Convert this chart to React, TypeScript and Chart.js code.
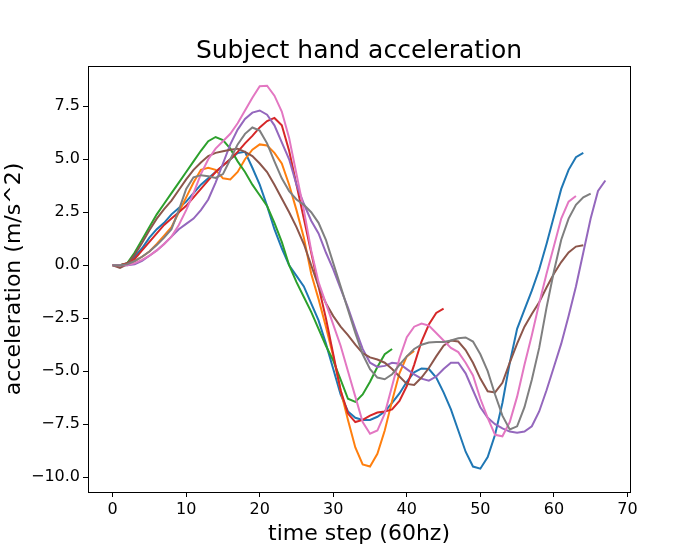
import { useEffect, useRef } from "react";
import { Chart, registerables } from "chart.js";

Chart.register(...registerables);

const blue = [
  0, 0, 0.1, 0.4, 0.8, 1.3, 1.7, 2.0, 2.4, 2.7, 3.0, 3.4, 3.8, 4.1, 4.4, 4.7, 5.0, 5.3, 5.35, 4.6,
  3.8, 2.8, 1.7, 0.8, 0.0, -0.5, -1.0, -1.8, -2.6, -3.7, -4.9, -6.1, -6.9, -7.2, -7.3, -7.3, -7.15, -6.9, -6.5, -6.05,
  -5.5, -5.05, -4.87, -4.9, -5.3, -6.0, -6.8, -7.8, -8.8, -9.5, -9.6, -9.05, -8.0, -6.5, -4.6, -3.0, -2.1, -1.2, -0.2, 1.0,
  2.3, 3.6, 4.5, 5.1, 5.3,
];
const orange = [
  0, 0, 0.05, 0.2, 0.4, 0.65, 1.0, 1.4, 1.8, 2.5, 3.2, 3.9, 4.5, 4.6, 4.5, 4.1, 4.05, 4.4, 5.0, 5.45,
  5.7, 5.65, 5.3, 4.8, 3.8, 2.6, 1.3, -0.4, -1.6, -2.9, -4.3, -5.9, -7.3, -8.6, -9.4, -9.5, -8.9, -7.8, -6.4, -5.1,
  -4.3, -4.05,
];
const green = [
  0, 0, 0.1, 0.6, 1.2, 1.8, 2.4, 2.9, 3.4, 3.9, 4.4, 4.9, 5.4, 5.85, 6.05, 5.9, 5.5, 4.9, 4.4, 3.8,
  3.3, 2.8, 2.0, 1.1, 0.0, -0.8, -1.5, -2.2, -3.0, -3.8, -4.5, -5.4, -6.3, -6.45, -6.1, -5.5, -4.8, -4.2, -3.95,
];
const red = [
  0, 0, 0.1, 0.3, 0.7, 1.1, 1.5, 1.9, 2.2, 2.5, 2.8, 3.2, 3.6, 4.0, 4.4, 4.7, 5.0, 5.35, 5.75, 6.1,
  6.5, 6.8, 6.95, 6.6, 5.4, 3.8, 2.2, 0.6, -1.0, -2.5, -4.2, -5.9, -7.0, -7.4, -7.3, -7.1, -6.95, -6.9, -6.8, -6.4,
  -5.7, -4.7, -3.6, -2.8, -2.25, -2.05,
];
const purple = [
  0, 0, 0, 0.05, 0.2, 0.45, 0.7, 1.0, 1.35, 1.7, 1.95, 2.2, 2.6, 3.1, 3.9, 4.8, 5.7, 6.4, 6.9, 7.2,
  7.3, 7.1, 6.6, 5.8, 5.0, 3.8, 2.9, 2.1, 1.5, 0.6, -0.2, -1.1, -2.0, -3.0, -3.95, -4.6, -4.8, -4.75, -4.6, -4.65,
  -4.9, -5.15, -5.35, -5.45, -5.25, -4.9, -4.6, -4.6, -5.1, -5.9, -6.7, -7.2, -7.5, -7.7, -7.85, -7.9, -7.85, -7.6, -6.9, -5.9,
  -4.8, -3.7, -2.4, -1.0, 0.6, 2.2, 3.5, 4.0,
];
const brown = [
  0, -0.13, 0.05, 0.5, 1.05, 1.65, 2.2, 2.65, 3.05, 3.55, 4.05, 4.5, 4.85, 5.15, 5.3, 5.38, 5.45, 5.5, 5.35, 5.15,
  4.8, 4.4, 3.8, 3.15, 2.5, 1.8, 1.0, 0.0, -1.0, -1.8, -2.4, -2.9, -3.3, -3.75, -4.15, -4.35, -4.45, -4.6, -4.9, -5.25,
  -5.6, -5.65, -5.3, -4.85, -4.3, -3.8, -3.55, -3.6, -4.0, -4.6, -5.35, -5.95, -6.0, -5.55, -4.6, -3.7, -2.9, -2.3, -1.75, -1.05,
  -0.4, 0.15, 0.6, 0.88, 0.94,
];
const pink = [
  0, 0, 0, 0.1, 0.25, 0.45, 0.7, 1.0, 1.35, 1.9, 2.6, 3.4, 4.3, 5.0, 5.5, 5.85, 6.2, 6.7, 7.3, 7.9,
  8.45, 8.47, 8.0, 7.25, 6.0, 4.3, 2.6, 0.7, -0.8, -1.8, -2.8, -3.8, -5.0, -6.2, -7.4, -7.95, -7.8, -7.0, -5.7, -4.4,
  -3.4, -2.9, -2.75, -2.85, -3.2, -3.55, -3.9, -4.1, -4.6, -5.2, -6.3, -7.2, -8.0, -8.07, -7.4, -6.2, -4.7, -3.3, -1.8, -0.4,
  0.9, 2.2, 3.0, 3.27,
];
const gray = [
  0, 0, 0.05, 0.2, 0.4, 0.65, 0.95, 1.3, 1.7, 2.6, 3.6, 4.15, 4.25, 4.2, 4.12, 4.3, 5.0, 5.7, 6.2, 6.5,
  6.35, 5.75, 4.9, 4.1, 3.5, 3.1, 2.85, 2.5, 2.0, 1.2, 0.1, -1.0, -2.1, -3.2, -4.2, -4.9, -5.3, -5.38, -5.15, -4.7,
  -4.3, -3.95, -3.75, -3.65, -3.62, -3.62, -3.55, -3.45, -3.41, -3.6, -4.2, -5.0, -6.1, -7.1, -7.75, -7.6, -6.7, -5.4, -3.9, -2.0,
  -0.3, 1.2, 2.2, 2.85, 3.2, 3.38,
];

const series = [blue, orange, green, red, purple, brown, pink, gray];
const colors = ["#1f77b4", "#ff7f0e", "#2ca02c", "#d62728", "#9467bd", "#8c564b", "#e377c2", "#7f7f7f"];

const xTicks = [0, 10, 20, 30, 40, 50, 60, 70];
const yTicks = [-10, -7.5, -5, -2.5, 0, 2.5, 5, 7.5];

const FONT = "'DejaVu Sans', sans-serif";

const frame = {
  id: "frame",
  afterDraw(chart: Chart) {
    const { ctx, chartArea: a } = chart;
    ctx.save();
    ctx.strokeStyle = "#000";
    ctx.lineWidth = 1;
    ctx.strokeRect(Math.round(a.left) + 0.5, Math.round(a.top) + 0.5, Math.round(a.right - a.left), Math.round(a.bottom - a.top));
    ctx.fillStyle = "#000";
    ctx.font = `25px ${FONT}`;
    ctx.textAlign = "center";
    ctx.textBaseline = "alphabetic";
    ctx.fillText("Subject hand acceleration", (a.left + a.right) / 2, 58);
    ctx.restore();
  },
};

export default function App() {
  const ref = useRef<HTMLCanvasElement>(null);

  useEffect(() => {
    document.body.style.margin = "0";
    if (!ref.current) return;
    const chart = new Chart(ref.current, {
      type: "line",
      data: {
        datasets: series.map((s, i) => ({
          label: `s${i}`,
          data: s.map((v, t) => ({ x: t, y: v })),
          borderColor: colors[i],
          backgroundColor: colors[i],
          borderWidth: 2,
          pointRadius: 0,
          tension: 0,
          fill: false,
          order: -i,
        })),
      },
      options: {
        animation: false,
        responsive: false,
        maintainAspectRatio: false,
        layout: { padding: { top: 66, right: 70, left: 0, bottom: 0 } },
        plugins: { legend: { display: false }, tooltip: { enabled: false }, title: { display: false } },
        scales: {
          x: {
            type: "linear",
            min: -3.35,
            max: 70.35,
            afterBuildTicks: (s: any) => {
              s.ticks = xTicks.map((v) => ({ value: v }));
            },
            afterFit: (s: any) => {
              s.height = 58;
            },
            ticks: { color: "#000", font: { family: FONT, size: 16 }, padding: 3, maxRotation: 0 },
            grid: { display: true, drawOnChartArea: false, drawTicks: true, tickLength: 5, tickColor: "#000" },
            border: { display: true, color: "#000" },
            title: { display: true, text: "time step (60hz)", color: "#000", font: { family: FONT, size: 22 }, padding: { top: 0, bottom: 3 } },
          },
          y: {
            type: "linear",
            min: -10.7,
            max: 9.4,
            afterBuildTicks: (s: any) => {
              s.ticks = yTicks.map((v) => ({ value: v }));
            },
            afterFit: (s: any) => {
              s.width = 88;
            },
            ticks: {
              color: "#000",
              font: { family: FONT, size: 16 },
              padding: 3,
              callback: (v: any) => {
                const n = Number(v);
                const str = Math.abs(n).toFixed(1);
                return n < 0 ? "\u2212" + str : str;
              },
            },
            grid: { display: true, drawOnChartArea: false, drawTicks: true, tickLength: 5, tickColor: "#000" },
            border: { display: true, color: "#000" },
            title: { display: true, text: "acceleration (m/s^2)", color: "#000", font: { family: FONT, size: 22 }, padding: { top: 1, bottom: 0 } },
          },
        },
      },
      plugins: [frame],
    });
    return () => chart.destroy();
  }, []);

  return (
    <div style={{ width: 700, height: 550, background: "#fff" }}>
      <canvas ref={ref} width={700} height={550} style={{ width: 700, height: 550 }} />
    </div>
  );
}
